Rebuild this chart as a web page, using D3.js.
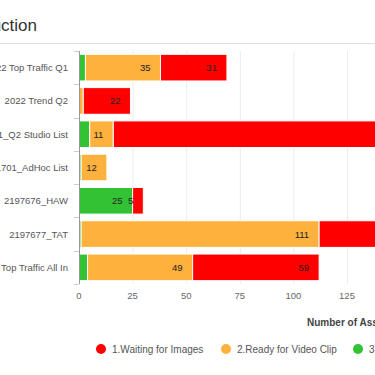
<html>
<head>
<script src="https://cdn.jsdelivr.net/npm/d3@7"></script>
<style>
body { margin:0; background:#fff; font-family:"Liberation Sans", Arial, sans-serif; }
</style>
</head>
<body>
<svg width="375" height="375" id="chart"></svg>
<script>
// data (left part of labels and right of axis are cut off)
var categories = ["2022 Top Traffic Q1", "2022 Trend Q2", "2197701_Q2 Studio List", "2191701_AdHoc List",
                  "2197676_HAW", "2197677_TAT", "2021 Top Traffic All In"];
var seriesNames = ["3.Done", "2.Ready for Video Clip", "1.Waiting for Images"];
var done      = [3, 0, 5, 1, 25, 1, 4];
var ready     = [35, 2, 11, 12, 0, 111, 49];
var waiting   = [31, 22, 150, 0, 5, 45, 59];
var xTicks    = [0, 25, 50, 75, 100, 125, 150, 175];
var legendNames = ["1.Waiting for Images", "2.Ready for Video Clip", "3.Done"];
var colors = {"1.Waiting for Images": "#ff0000", "2.Ready for Video Clip": "#ffb13d", "3.Done": "#33c233"};

var svg = d3.select("#chart");

// title + rule
svg.append("text")
  .attr("x", 37).attr("y", 31)
  .attr("text-anchor", "end")
  .style("font-size", "17px").style("fill", "#333")
  .text("Production");
svg.append("line")
  .attr("x1", 0).attr("x2", 375).attr("y1", 43.5).attr("y2", 43.5)
  .style("stroke", "#ddd");

var rows = categories.map(function(c, i) {
  return {cat: c, vals: [done[i], ready[i], waiting[i]]};
});

var x = d3.scaleLinear().domain([0, 25]).range([79, 132.6]);
var y = d3.scaleBand().domain(categories).range([51, 284]).paddingInner(0.2).paddingOuter(0.1);

// grid
svg.append("g").selectAll("line")
  .data(xTicks.slice(1))
  .enter().append("line")
  .attr("x1", function(d) { return x(d) + 0.5; })
  .attr("x2", function(d) { return x(d) + 0.5; })
  .attr("y1", 51).attr("y2", 284)
  .style("stroke", "#ececec");

// bars
var stack = [];
rows.forEach(function(r) {
  var acc = 0;
  r.vals.forEach(function(v, k) {
    stack.push({cat: r.cat, name: seriesNames[k], v: v, x0: acc, x1: acc + v});
    acc += v;
  });
});

var seg = svg.append("g").selectAll("g")
  .data(stack.filter(function(d) { return d.v > 0; }))
  .enter().append("g");

seg.append("rect")
  .attr("x", function(d) { return x(d.x0); })
  .attr("width", function(d) { return x(d.x1) - x(d.x0); })
  .attr("y", function(d) { return y(d.cat); })
  .attr("height", y.bandwidth())
  .style("fill", function(d) { return colors[d.name]; })
  .style("stroke", "#fff").style("stroke-width", "1px");

seg.append("text")
  .attr("x", function(d) { return x(d.x1) - 10; })
  .attr("y", function(d) { return y(d.cat) + y.bandwidth() / 2 + 3.5; })
  .attr("text-anchor", "end")
  .style("font-size", "9.5px").style("fill", "#222")
  .style("display", function(d) {
    var w = String(d.v).length * 5.3;
    return (x(d.x1) - 10 - w < x(0)) ? "none" : null;
  })
  .text(function(d) { return d.v; });

// y axis
var yAxis = svg.append("g").attr("transform", "translate(79,0)");
yAxis.append("line").attr("x1", 0.5).attr("x2", 0.5).attr("y1", 51).attr("y2", 284).style("stroke", "#999");
var bounds = [51].concat(categories.map(function(c) { return y(c) + y.bandwidth() + y.step() * 0.1; }));
yAxis.selectAll(".tk").data(bounds).enter().append("line")
  .attr("x1", -5).attr("x2", 0)
  .attr("y1", function(d) { return Math.round(d) + 0.5; })
  .attr("y2", function(d) { return Math.round(d) + 0.5; })
  .style("stroke", "#ccc");
yAxis.selectAll("text").data(categories).enter().append("text")
  .attr("x", -11)
  .attr("y", function(d) { return y(d) + y.bandwidth() / 2 + 3.5; })
  .attr("text-anchor", "end")
  .style("font-size", "9.5px").style("fill", "#555")
  .text(function(d) { return d; });

// x axis labels
svg.append("g").selectAll("text")
  .data(xTicks)
  .enter().append("text")
  .attr("x", function(d) { return x(d); })
  .attr("y", 299)
  .attr("text-anchor", "middle")
  .style("font-size", "9.5px").style("fill", "#666")
  .text(function(d) { return d; });

svg.append("text")
  .attr("x", 307).attr("y", 326)
  .style("font-size", "10px").style("font-weight", "bold").style("fill", "#444")
  .text("Number of Assets");

// legend
var legX = [101, 226, 358];
var leg = svg.append("g").selectAll("g")
  .data(legendNames)
  .enter().append("g")
  .attr("transform", function(d, i) { return "translate(" + legX[i] + ",349)"; });
leg.append("circle").attr("r", 5).style("fill", function(d) { return colors[d]; });
leg.append("text")
  .attr("x", 11).attr("y", 3.5)
  .style("font-size", "10px").style("fill", "#555")
  .text(function(d) { return d; });
</script>
</body>
</html>
